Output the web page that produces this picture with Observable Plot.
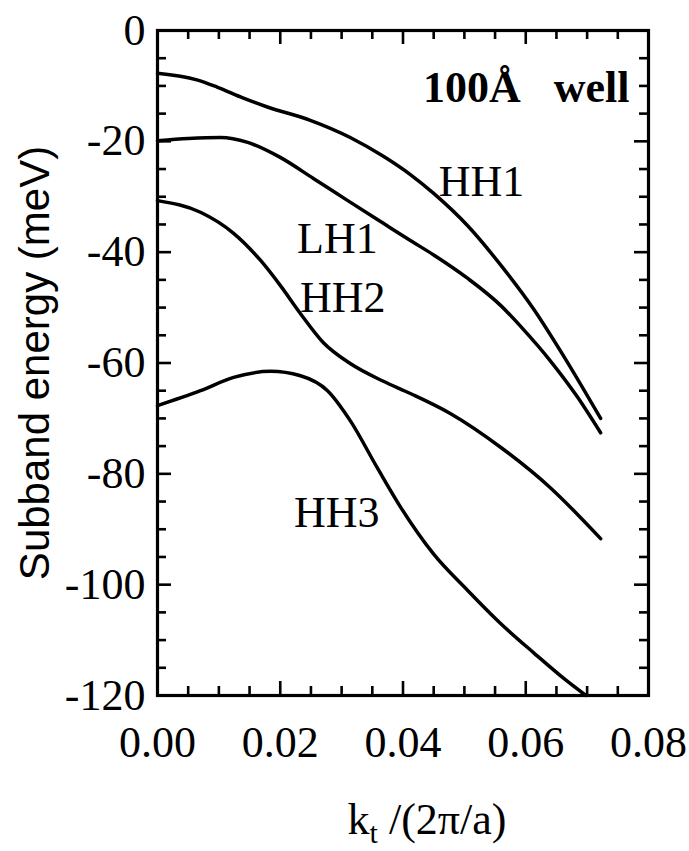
<!DOCTYPE html>
<html>
<head>
<meta charset="utf-8">
<script src="https://cdn.jsdelivr.net/npm/d3@7"></script>
<script src="https://cdn.jsdelivr.net/npm/@observablehq/plot@0.6"></script>
<style>
  html, body { margin: 0; padding: 0; background: #fff; }
  #chart svg { display: block; }
</style>
</head>
<body>
<div id="chart"></div>
<script>
// ---- tick labels ----
const xTicks = [0, 0.02, 0.04, 0.06, 0.08];
const yTicks = [0, -20, -40, -60, -80, -100, -120];
const xMinorStep = 0.005;
const yMinorStep = 5;

// ---- series: [k_t (2π/a), energy (meV)] ----
const HH1 = [[0,-7.7],[0.0064,-8.9],[0.0097,-10.2],[0.014,-12.2],[0.0179,-13.8],[0.0249,-16.2],[0.0314,-19.3],[0.0368,-22.7],[0.0412,-26.0],[0.045,-29.4],[0.0505,-35.2],[0.0559,-42.3],[0.0613,-50.3],[0.0662,-58.8],[0.0722,-70.0]];
const LH1 = [[0,-19.9],[0.005,-19.5],[0.0103,-19.3],[0.0147,-20.2],[0.02,-22.9],[0.0254,-26.7],[0.031,-30.7],[0.0368,-34.8],[0.0412,-37.9],[0.045,-40.5],[0.0505,-44.7],[0.0559,-49.6],[0.0595,-53.8],[0.064,-59.6],[0.0684,-66.1],[0.0722,-72.6]];
const HH2 = [[0,-30.7],[0.007,-32.8],[0.0124,-36.6],[0.0168,-41.5],[0.02,-46.0],[0.0233,-51.1],[0.027,-56.3],[0.0314,-60.1],[0.0368,-63.3],[0.0412,-65.5],[0.0477,-69.1],[0.0559,-75.2],[0.064,-82.5],[0.0722,-91.7]];
const HH3 = [[0,-67.7],[0.007,-65.0],[0.0124,-62.6],[0.0184,-61.5],[0.0233,-62.3],[0.0277,-65.0],[0.0314,-70.4],[0.0358,-78.9],[0.0396,-86.0],[0.045,-94.5],[0.0505,-101.0],[0.0559,-107.0],[0.0613,-112.3],[0.0665,-117.2],[0.0698,-120.0]];

const bandNames = ["HH1", "LH1", "HH2", "HH3"];
const bandData = [HH1, LH1, HH2, HH3];

// label anchors (data coordinates)
const labelText = ["HH1", "LH1", "HH2", "HH3"];
const labelK = [0.0528, 0.0293, 0.0302, 0.0292];
const labelE = [-27.4, -37.6, -48.2, -87.0];

const wellLabel = "100Å\u00a0\u00a0\u00a0well";
const yLabel = "Subband energy (meV)";
const xLabel = "kt /(2π/a)";

// ---- build tables ----
const rows = bandData.flatMap((pts, i) => pts.map(([k, E]) => ({band: bandNames[i], k, E})));
const labels = labelText.map((t, i) => ({text: t, k: labelK[i], E: labelE[i]}));

const xMinor = d3.range(0, 0.08 + 1e-9, xMinorStep).filter(v => !xTicks.some(t => Math.abs(t - v) < 1e-9));
const yMinor = d3.range(-120, 0 + 1e-9, yMinorStep).filter(v => !yTicks.includes(v));

const W = 689, H = 851;
const mL = 157, mR = 41, mT = 30, mB = 156;
const pw = W - mL - mR, ph = H - mT - mB;
const serif = "'Liberation Serif', 'Times New Roman', Times, serif";
const sans = "'Liberation Sans', Arial, Helvetica, sans-serif";
const majorLen = 14, minorLen = 9, tw = 2.6;

const tickMarks = (vals, len) => [
  Plot.tickX(vals, {x: d => d, insetTop: ph - len, stroke: "black", strokeWidth: tw}),
  Plot.tickX(vals, {x: d => d, insetBottom: ph - len, stroke: "black", strokeWidth: tw})
];
const tickMarksY = (vals, len) => [
  Plot.tickY(vals, {y: d => d, insetRight: pw - len, stroke: "black", strokeWidth: tw}),
  Plot.tickY(vals, {y: d => d, insetLeft: pw - len, stroke: "black", strokeWidth: tw})
];

const chart = Plot.plot({
  width: W, height: H,
  marginLeft: mL, marginRight: mR, marginTop: mT, marginBottom: mB,
  style: {fontFamily: serif, fontSize: "43px", color: "black", background: "white", overflow: "visible"},
  x: {domain: [0, 0.08]},
  y: {domain: [-120, 0]},
  marks: [
    ...tickMarks(xMinor, minorLen),
    ...tickMarks(xTicks.slice(1, -1), majorLen),
    ...tickMarksY(yMinor, minorLen),
    ...tickMarksY(yTicks.slice(1, -1), majorLen),
    Plot.axisX(xTicks, {tickSize: 0, tickPadding: 30, tickFormat: d3.format(".2f"), label: null, fontSize: 44}),
    Plot.axisY(yTicks, {tickSize: 0, tickPadding: 12, tickFormat: d => `${d}`, label: null, fontSize: 44}),
    Plot.line(rows, {x: "k", y: "E", z: "band", curve: "monotone-x", stroke: "black", strokeWidth: 3.5}),
    Plot.frame({stroke: "black", strokeWidth: 3.2}),
    Plot.text(labels, {x: "k", y: "E", text: "text", fontSize: 44, fontFamily: serif, fill: "black"}),
    Plot.text([wellLabel], {frameAnchor: "top-right", textAnchor: "end", lineAnchor: "top", dx: -19, dy: 40, fontSize: 44, fontWeight: "bold", fontFamily: serif, fill: "black"}),
    Plot.text([yLabel], {frameAnchor: "left", rotate: -90, textAnchor: "middle", lineAnchor: "middle", dx: -122, fontSize: 42, fontFamily: sans, fill: "black"}),
    Plot.text([xLabel], {frameAnchor: "bottom", textAnchor: "middle", lineAnchor: "middle", dx: 24, dy: 124, fontSize: 44, fontFamily: serif, fill: "black"})
  ]
});

// subscript "t" in the x label
const xl = [...chart.querySelectorAll("text")].find(n => n.textContent === xLabel);
if (xl) {
  xl.textContent = "";
  const ns = "http://www.w3.org/2000/svg";
  const a = document.createElementNS(ns, "tspan"); a.textContent = "k";
  const b = document.createElementNS(ns, "tspan"); b.textContent = "t";
  b.setAttribute("font-size", "0.68em"); b.setAttribute("dy", "0.3em");
  const c = document.createElementNS(ns, "tspan"); c.textContent = "\u00a0/(2π/a)";
  c.setAttribute("dy", "-0.2em");
  xl.append(a, b, c);
}

document.getElementById("chart").append(chart);
</script>
</body>
</html>
